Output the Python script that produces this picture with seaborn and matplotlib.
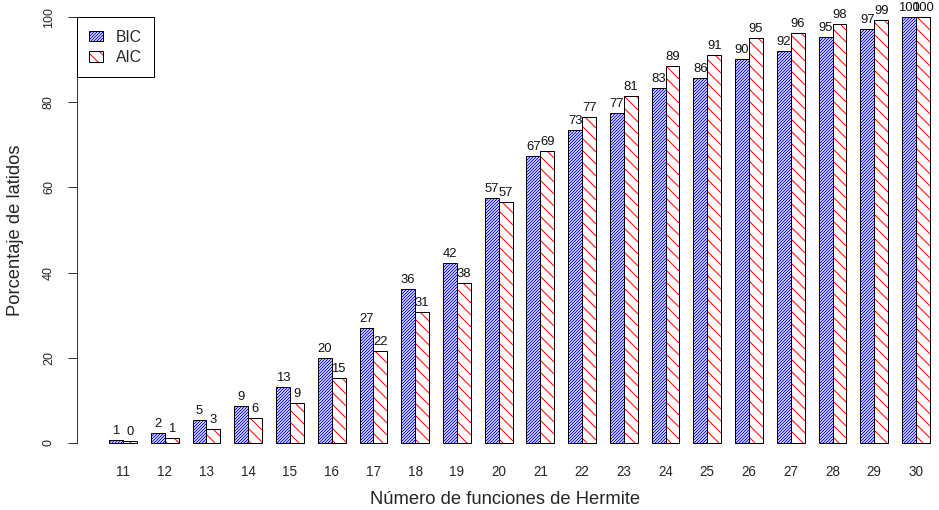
import matplotlib
matplotlib.use("Agg")
import matplotlib.pyplot as plt
from matplotlib.patches import Rectangle, Patch
import numpy as np
import pandas as pd
import seaborn as sns

# Porcentaje de latidos bien representados según el número de funciones de Hermite
funciones = [str(n) for n in range(11, 31)]
bic = [0.7, 2.3, 5.4, 8.6, 13.2, 20.0, 27.0, 36.2, 42.2, 57.4,
       67.3, 73.4, 77.4, 83.4, 85.7, 90.2, 92.1, 95.4, 97.3, 100.0]
aic = [0.4, 1.2, 3.2, 5.8, 9.3, 15.2, 21.6, 30.7, 37.6, 56.6,
       68.6, 76.6, 81.4, 88.6, 91.0, 95.0, 96.3, 98.3, 99.2, 100.0]
criterios = ["BIC", "AIC"]
colores = {"BIC": "blue", "AIC": "red"}
tramas = {"BIC": "////////", "AIC": "\\\\"}
yticks = [0, 20, 40, 60, 80, 100]

df = pd.DataFrame({
    "funciones": funciones * 2,
    "criterio": ["BIC"] * len(bic) + ["AIC"] * len(aic),
    "porcentaje": bic + aic,
})

sns.set_style("white")
plt.rcParams["font.family"] = ["Liberation Sans", "DejaVu Sans"]
plt.rcParams["hatch.linewidth"] = 1.0

DPI = 72
fig = plt.figure(figsize=(939 / DPI, 510 / DPI), dpi=DPI)
ax = fig.add_axes([77 / 939, 50 / 510, 862 / 939, 460 / 510])

sns.barplot(data=df, x="funciones", y="porcentaje", hue="criterio",
            hue_order=criterios, palette=colores, width=2 / 3, gap=0,
            dodge=True, legend=False, ax=ax)

# hatch each bar in its colour, then outline it in black
for crit, cont in zip(criterios, ax.containers):
    for p in cont.patches:
        p.set_facecolor("white")
        p.set_edgecolor(colores[crit])
        p.set_hatch(tramas[crit])
        p.set_linewidth(0)
        ax.add_patch(Rectangle(p.get_xy(), p.get_width(), p.get_height(),
                               fill=False, edgecolor="black", linewidth=1.0,
                               zorder=p.get_zorder() + 0.1))
    ax.bar_label(cont, fmt="%.0f", padding=3, fontsize=13, color="#111111")

ax.set_xlim(-1.102, 19.551)
ax.set_ylim(-4, 104)

for s in ["top", "right", "bottom"]:
    ax.spines[s].set_visible(False)
ax.spines["left"].set_bounds(0, 100)
ax.spines["left"].set_color("#333333")
ax.spines["left"].set_linewidth(1.0)

ax.set_yticks(yticks)
ax.set_yticklabels([str(v) for v in yticks], rotation=90, va="center",
                   fontsize=12.5)
ax.tick_params(axis="y", length=9, width=1.0, color="#333333", pad=13,
               left=True)
ax.tick_params(axis="x", length=0, pad=5, labelsize=13.5)

ax.set_xlabel("Número de funciones de Hermite", fontsize=18.4, va="center")
ax.xaxis.set_label_coords((505 - 77) / 862, -40 / 460)
ax.set_ylabel("Porcentaje de latidos", fontsize=18.4, va="center")
ax.yaxis.set_label_coords(-61 / 862, 0.5)

handles = []
for crit in criterios:
    handles.append((Patch(facecolor="white", edgecolor=colores[crit],
                          hatch=tramas[crit], linewidth=0),
                    Patch(fill=False, edgecolor="black", linewidth=1.0)))
leg = ax.legend(handles, criterios, loc="upper left",
                bbox_to_anchor=(0, 104 / 108), borderaxespad=0,
                fontsize=15.6, handlelength=0.85, handleheight=0.65,
                handletextpad=0.85, borderpad=0.8, labelspacing=0.35,
                fancybox=False, framealpha=1, edgecolor="black")
leg.get_frame().set_linewidth(1.0)

fig.savefig("out.png", dpi=DPI)
